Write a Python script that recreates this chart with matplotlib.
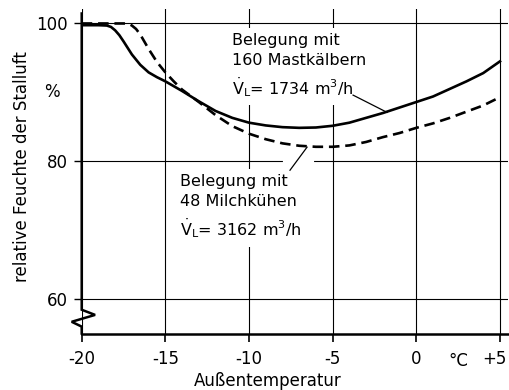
import matplotlib
matplotlib.use("Agg")
import matplotlib.pyplot as plt
from matplotlib.transforms import ScaledTranslation

plt.rcParams['font.family'] = ['DejaVu Sans']
plt.rcParams['mathtext.fontset'] = 'dejavusans'

# ---- data ----
temp_kaelber = [-20, -19, -18.5, -18.25, -18.0, -17.75, -17.5, -17.0, -16.5, -16.0, -15.5, -15.0,
                -14.5, -14.0, -13.0, -12.0, -11.0, -10.0, -9.0, -8.0, -7.0, -6.0, -5.0, -4.0,
                -3.0, -2.0, -1.0, 0.0, 1.0, 2.0, 3.0, 4.0, 5.0]
rh_kaelber = [99.75, 99.75, 99.7, 99.5, 99.0, 98.3, 97.4, 95.5, 94.0, 92.9, 92.2, 91.6,
              90.9, 90.2, 88.7, 87.3, 86.3, 85.6, 85.2, 84.95, 84.85, 84.9, 85.15, 85.6,
              86.3, 87.0, 87.8, 88.6, 89.4, 90.5, 91.6, 92.8, 94.5]

temp_kuehe = [-20, -19, -18, -17.5, -17.2, -17.0, -16.75, -16.5, -16.0, -15.5, -15.0, -14.5, -14.0,
              -13.0, -12.0, -11.0, -10.0, -9.0, -8.0, -7.0, -6.0, -5.0, -4.0, -3.0, -2.0,
              -1.0, 0.0, 1.0, 2.0, 3.0, 4.0, 5.0]
rh_kuehe = [100.0, 100.0, 100.0, 100.0, 99.95, 99.7, 99.2, 98.4, 96.3, 94.4, 92.9, 91.6, 90.4,
            88.6, 86.7, 85.1, 84.0, 83.2, 82.6, 82.25, 82.1, 82.1, 82.3, 82.8, 83.5,
            84.1, 84.85, 85.5, 86.3, 87.2, 88.1, 89.3]

x_ticks = [-20, -15, -10, -5, 0, 5]
x_tick_labels = ['-20', '-15', '-10', '-5', '0', '+5']
y_ticks = [60, 80, 100]
y_tick_labels = ['60', '80', '100']

vdot = "$\\dot{\\mathrm{V}}_{\\mathrm{L}}$"
label_kaelber = "Belegung mit\n160 Mastkälbern\n" + vdot + "= 1734 m$^3$/h"
label_kuehe = "Belegung mit\n48 Milchkühen\n" + vdot + "= 3162 m$^3$/h"
x_label = "Außentemperatur"
y_label = "relative Feuchte der Stalluft"
y_unit = "%"
x_unit = "°C"

# y-axis with break mark
axis_break_x = [-20, -20, -19.2, -20.6, -20, -20]
axis_break_y = [101.45, 58.45, 57.7, 56.7, 56.0, 55.0]

# ---- figure ----
W, H = 510, 390
fig = plt.figure(figsize=(W / 100, H / 100), dpi=100)
left_px, right_px, top_px, bottom_px = 81.7, 508, 9, 333.5
ax = fig.add_axes([left_px / W, 1 - bottom_px / H, (right_px - left_px) / W, (bottom_px - top_px) / H])
ax.set_xlim(-20, 5.48)
ax.set_ylim(55, 102.1)

for s in ['top', 'right', 'left']:
    ax.spines[s].set_visible(False)
ax.spines['bottom'].set_linewidth(1.8)

ax.set_axisbelow(True)
ax.grid(True, color='black', linewidth=0.8)

ax.set_xticks(x_ticks)
ax.set_xticklabels(x_tick_labels, fontsize=12)
ax.set_yticks(y_ticks)
ax.set_yticklabels(y_tick_labels, fontsize=12)
ax.tick_params(axis='x', direction='out', length=6, width=1.2, pad=6)
ax.tick_params(axis='y', direction='out', length=6, width=1.0, pad=4)

# nudge the last x tick label ("+5") slightly left, as in the original
last = ax.get_xticklabels()[-1]
last.set_transform(last.get_transform() + ScaledTranslation(-6 / 100, 0, fig.dpi_scale_trans))

ax.plot(axis_break_x, axis_break_y, color='black', lw=1.8, clip_on=False, zorder=3,
        solid_joinstyle='miter')

# white gap in grid where leader crosses
ax.plot([-7.85, -6.23], [80, 80], color='white', lw=3, zorder=1.8)

ax.plot(temp_kaelber, rh_kaelber, color='black', lw=1.9, zorder=2.5, solid_joinstyle='round')
ax.plot(temp_kuehe, rh_kuehe, color='black', lw=1.9, zorder=2.5, linestyle=(0, (4, 2.2)))

# leader lines
ax.plot([-3.78, -1.75], [89.6, 87.1], color='black', lw=0.9, zorder=2.2)
ax.plot([-6.53, -7.55], [82.05, 78.7], color='black', lw=0.9, zorder=2.2)

bb = dict(facecolor='white', edgecolor='none', pad=5)
ax.text(-11.02, 98.6, label_kaelber, fontsize=11.5, ha='left', va='top',
        linespacing=1.38, bbox=bb, zorder=2)
ax.text(-14.12, 78.1, label_kuehe, fontsize=11.5, ha='left', va='top',
        linespacing=1.38, bbox=bb, zorder=2)

ax.annotate(x_unit, xy=(2.5, 0), xycoords=ax.get_xaxis_transform(),
            xytext=(0, -19.5), textcoords='offset points', ha='center', va='center', fontsize=12)

fig.text(268 / W, 1 - 381 / H, x_label, ha='center', va='center', fontsize=12)
fig.text(22 / W, 1 - 167 / H, y_label, ha='center', va='center', fontsize=12, rotation=90)
fig.text(52 / W, 1 - 92 / H, y_unit, ha='center', va='center', fontsize=12)

fig.savefig('out.png', dpi=100)
